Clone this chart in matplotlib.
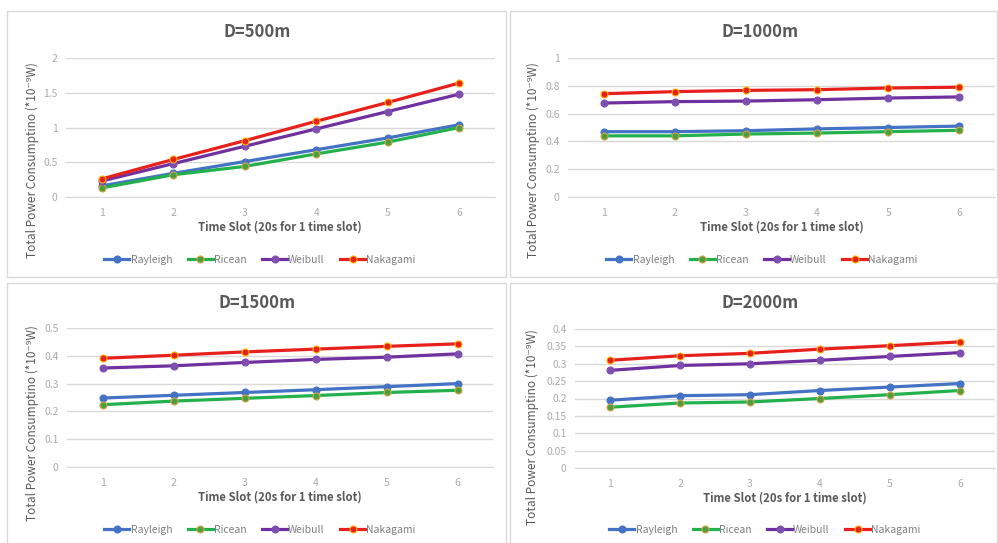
import matplotlib
matplotlib.use("Agg")
import matplotlib.pyplot as plt
from matplotlib.patches import Rectangle

plt.rcParams['font.family'] = ['Noto Sans CJK SC', 'DejaVu Sans']

# data
time_slots = [1, 2, 3, 4, 5, 6]
series_names = ["Rayleigh", "Ricean", "Weibull", "Nakagami"]
titles = ["D=500m", "D=1000m", "D=1500m", "D=2000m"]

d500_rayleigh = [0.16, 0.34, 0.51, 0.68, 0.85, 1.04]
d500_ricean = [0.13, 0.32, 0.44, 0.62, 0.79, 1.00]
d500_weibull = [0.23, 0.48, 0.73, 0.98, 1.23, 1.48]
d500_nakagami = [0.26, 0.54, 0.81, 1.09, 1.36, 1.64]

d1000_rayleigh = [0.47, 0.47, 0.477, 0.49, 0.50, 0.51]
d1000_ricean = [0.44, 0.44, 0.453, 0.46, 0.47, 0.48]
d1000_weibull = [0.676, 0.686, 0.69, 0.70, 0.712, 0.72]
d1000_nakagami = [0.743, 0.758, 0.767, 0.772, 0.784, 0.79]

d1500_rayleigh = [0.248, 0.258, 0.268, 0.278, 0.289, 0.30]
d1500_ricean = [0.224, 0.237, 0.247, 0.257, 0.268, 0.276]
d1500_weibull = [0.356, 0.364, 0.376, 0.387, 0.395, 0.407]
d1500_nakagami = [0.391, 0.402, 0.414, 0.424, 0.434, 0.443]

d2000_rayleigh = [0.195, 0.208, 0.211, 0.223, 0.233, 0.243]
d2000_ricean = [0.175, 0.187, 0.19, 0.20, 0.211, 0.223]
d2000_weibull = [0.281, 0.295, 0.30, 0.31, 0.321, 0.332]
d2000_nakagami = [0.31, 0.323, 0.33, 0.342, 0.352, 0.363]

y_ticks_500 = [0, 0.5, 1, 1.5, 2]
y_ticks_1000 = [0, 0.2, 0.4, 0.6, 0.8, 1]
y_ticks_1500 = [0, 0.1, 0.2, 0.3, 0.4, 0.5]
y_ticks_2000 = [0, 0.05, 0.1, 0.15, 0.2, 0.25, 0.3, 0.35, 0.4]

line_colors = ["#4472C4", "#22B14C", "#7030A0", "#E8201C"]
marker_faces = ["#4472C4", "#4F9E3E", "#7F4FB0", "#E8201C"]
marker_edges = ["#4472C4", "#D2A548", "#7F4FB0", "#FFB000"]

W, H = 998, 543
fig = plt.figure(figsize=(W / 100, H / 100), dpi=100)
fig.patch.set_facecolor("white")

def px_rect(x0, y0, x1, y1):
    # pixel box (top-down) -> figure fraction
    return [x0 / W, 1 - y1 / H, (x1 - x0) / W, (y1 - y0) / H]

def fx(x):
    return x / W

def fy(y):
    return 1 - y / H

# panel frames
for x0, y0, x1, y1 in [(7, 11, 506, 277), (510, 11, 997, 277),
                       (7, 283, 506, 560), (510, 283, 997, 560)]:
    fig.patches.append(Rectangle((fx(x0), fy(y1)), fx(x1 - x0), (y1 - y0) / H,
                                 transform=fig.transFigure, facecolor="none",
                                 edgecolor="#D9D9D9", lw=1, zorder=-1))

panels = [
    (titles[0], [d500_rayleigh, d500_ricean, d500_weibull, d500_nakagami], y_ticks_500,
     (66, 58, 495, 197), 257, 32, 280, 227, 32, 160, 260),
    (titles[1], [d1000_rayleigh, d1000_ricean, d1000_weibull, d1000_nakagami], y_ticks_1000,
     (568, 58, 995, 197), 760, 32, 782, 227, 533, 160, 260),
    (titles[2], [d1500_rayleigh, d1500_ricean, d1500_weibull, d1500_nakagami], y_ticks_1500,
     (67, 328, 493, 467), 257, 303, 280, 497, 32, 423, 530),
    (titles[3], [d2000_rayleigh, d2000_ricean, d2000_weibull, d2000_nakagami], y_ticks_2000,
     (575, 329, 995, 468), 760, 303, 785, 498, 532, 427, 530),
]

for title, series, yticks, box, tx, ty, xlx, xly, ylx, yly, leg_y in panels:
    ax = fig.add_axes(px_rect(*box))
    ax.set_facecolor("none")
    handles = []
    for vals, name, lc, mf, me in zip(series, series_names, line_colors, marker_faces, marker_edges):
        h, = ax.plot(time_slots, vals, color=lc, lw=2.3, marker="o", markersize=5,
                     markerfacecolor=mf, markeredgecolor=me, markeredgewidth=0.8, label=name,
                     zorder=3)
        handles.append(h)
    ax.set_xlim(0.5, 6.5)
    ax.set_ylim(yticks[0], yticks[-1])
    ax.set_yticks(yticks)
    ax.set_yticklabels([f"{t:g}" for t in yticks])
    ax.set_xticks(time_slots)
    ax.grid(axis="y", color="#D9D9D9", lw=1)
    ax.set_axisbelow(True)
    for s in ["top", "right", "left"]:
        ax.spines[s].set_visible(False)
    ax.spines["bottom"].set_color("#D9D9D9")
    ax.tick_params(length=0, labelsize=7.5, colors="#ABABAB", pad=8)
    ax.tick_params(axis="y", pad=6)

    fig.text(fx(tx), fy(ty), title, ha="center", va="center", fontsize=12,
             fontweight="bold", color="#595959")
    fig.text(fx(xlx), fy(xly), "Time Slot (20s for 1 time slot)", ha="center", va="center",
             fontsize=8.2, fontweight="bold", color="#595959")
    fig.text(fx(ylx), fy(yly), "Total Power Consumptino (*10\u207b\u2079W)", ha="center",
             va="center", rotation=90, fontsize=8.5, color="#595959")
    fig.legend(handles=handles, loc="center", bbox_to_anchor=(fx(xlx - 20), fy(leg_y)),
               ncol=4, frameon=False, fontsize=7.5, labelcolor="#7F7F7F",
               handlelength=2.4, handletextpad=0.1, columnspacing=1.5, borderpad=0)

fig.savefig("out.png", dpi=100, facecolor="white")
